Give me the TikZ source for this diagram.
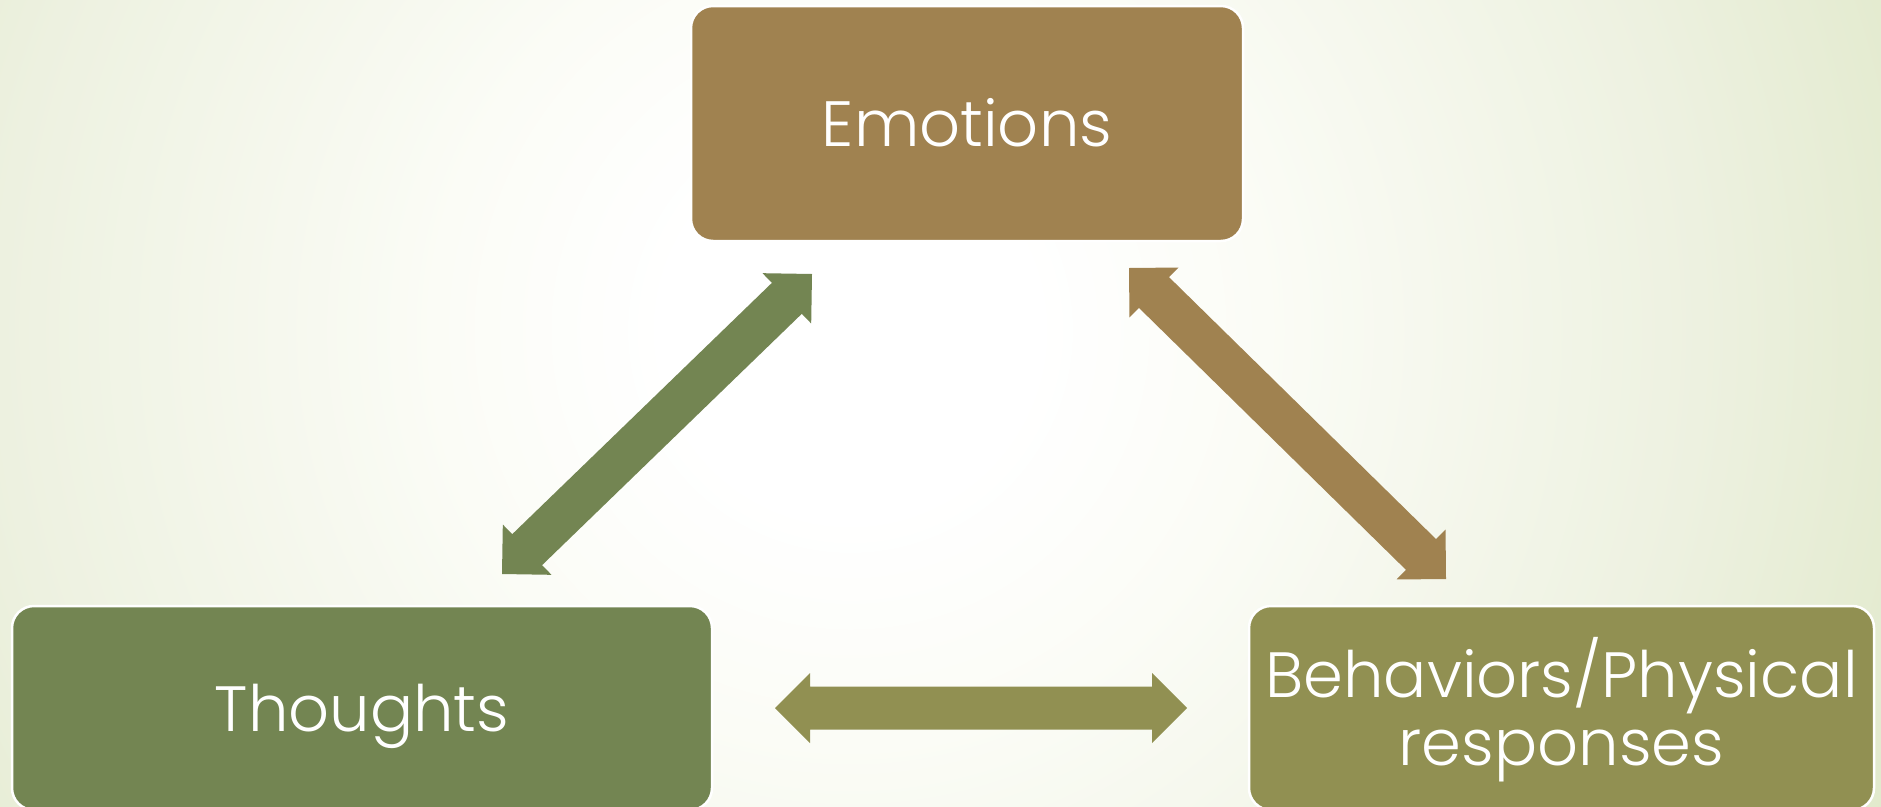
\documentclass[tikz,border=0pt]{standalone}
\usepackage{fontspec}
\setmainfont{Poppins Light}
\usetikzlibrary{calc}
\definecolor{embrown}{RGB}{160,130,80}
\definecolor{thgreen}{RGB}{115,133,82}
\definecolor{bholive}{RGB}{145,144,82}
\definecolor{bgouter}{RGB}{225,233,203}
\definecolor{bgmid}{RGB}{237,241,224}
\definecolor{bgin}{RGB}{251,252,246}
\pgfdeclareradialshading{bgglow}{\pgfpoint{0bp}{0bp}}{color(0bp)=(white); color(4bp)=(white); color(9bp)=(bgin); color(18.5bp)=(bgmid); color(25bp)=(bgouter); color(50bp)=(bgouter)}
% fat double-headed arrow between two named coordinates
\newcommand\fatdbl[3]{%
  \coordinate (da1) at ($(#2)!35pt!(#3)$);
  \coordinate (da2) at ($(#3)!35pt!(#2)$);
  \fill[#1] (#2) -- ($(da1)!35pt!90:(#3)$) -- ($(da1)!21.5pt!90:(#3)$)
    -- ($(da2)!21.5pt!-90:(#2)$) -- ($(da2)!35pt!-90:(#2)$) -- (#3)
    -- ($(da2)!35pt!90:(#2)$) -- ($(da2)!21.5pt!90:(#2)$)
    -- ($(da1)!21.5pt!-90:(#3)$) -- ($(da1)!35pt!-90:(#3)$) -- cycle;
}
\begin{document}
\begin{tikzpicture}[x=1pt,y=-1pt,
  box/.style={rounded corners=22pt, draw=white, line width=2.5pt, text=white,
    align=center, inner sep=0pt, font=\fontsize{64}{68}\selectfont,
    text height=46pt, text depth=0pt}]
\useasboundingbox (0,0) rectangle (1881,806);
\begin{scope}
  \clip (0,0) rectangle (1881,806);
  \shade[shading=bgglow] (850,330) circle [radius=1150];
\end{scope}
% boxes
\node[box, fill=embrown, minimum width=552pt, minimum height=235pt] (emo) at (967,123.5) {Emotions};
\node[box, fill=thgreen, minimum width=700pt, minimum height=204pt] (tho) at (362,708) {Thoughts};
\node[box, fill=bholive, minimum width=625pt, minimum height=204pt, text height=114pt] (beh) at (1561.5,708) {Behaviors/Physical\\responses};
% arrow tips
\coordinate (g1) at (502,574);
\coordinate (g2) at (812,274);
\coordinate (b1) at (1129,268);
\coordinate (b2) at (1446,579);
\coordinate (h1) at (775,708);
\coordinate (h2) at (1187,708);
\fatdbl{thgreen}{g1}{g2}
\fatdbl{embrown}{b1}{b2}
\fatdbl{bholive}{h1}{h2}
\end{tikzpicture}
\end{document}
